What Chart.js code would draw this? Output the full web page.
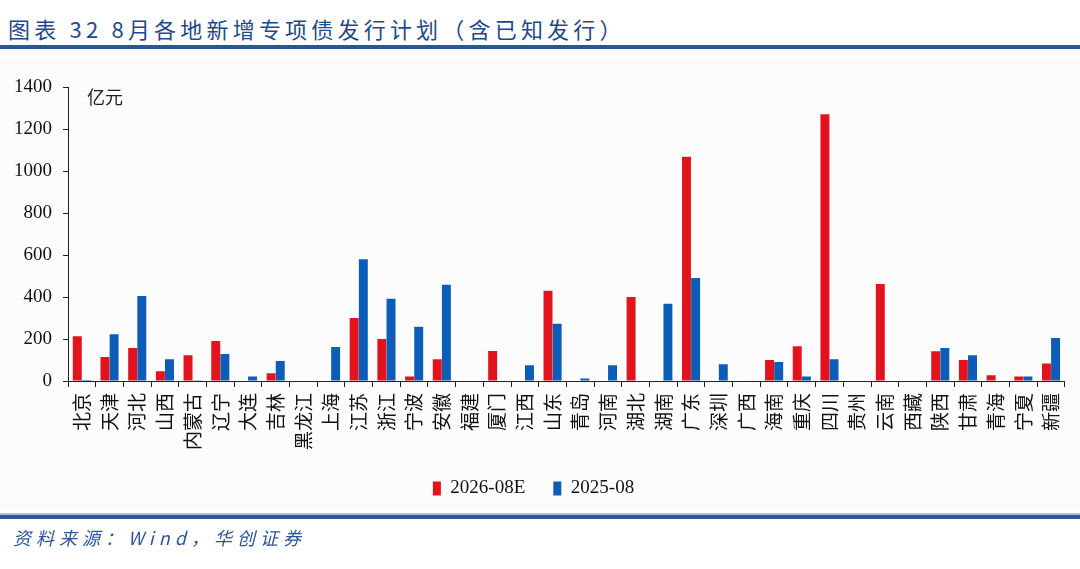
<!DOCTYPE html>
<html>
<head>
<meta charset="utf-8">
<script src="https://cdn.jsdelivr.net/npm/chart.js@4.4.1/dist/chart.umd.min.js"></script>
<style>
  html,body{margin:0;padding:0;background:#fff;}
  body{width:1080px;height:569px;position:relative;overflow:hidden;font-family:"Noto Sans CJK SC",sans-serif;}
  #title{position:absolute;left:8px;top:13px;font-size:22px;color:#1F4A8A;letter-spacing:4.2px;white-space:nowrap;line-height:30px;}
  #topline{position:absolute;left:0;top:45px;width:1080px;height:4px;background:#2B5597;}
  #plotbg{position:absolute;left:0;top:58px;width:1080px;height:452px;background:#fcfcfc;}
  #wrap{position:absolute;left:0;top:60px;width:1080px;height:480px;}
  #botline1{position:absolute;left:0;top:513px;width:1080px;height:2px;background:#A9C0DE;}
  #botline2{position:absolute;left:0;top:515px;width:1080px;height:4px;background:#2B5597;}
  #source{position:absolute;left:13px;top:522px;font-size:18px;color:#2B5597;font-style:italic;letter-spacing:5px;white-space:nowrap;line-height:30px;}
</style>
</head>
<body>
<div id="title">图表 32 8月各地新增专项债发行计划（含已知发行）</div>
<div id="topline"></div>
<div id="plotbg"></div>
<div id="wrap"><canvas id="c" width="1080" height="480"></canvas></div>
<div id="botline1"></div>
<div id="botline2"></div>
<div id="source">资料来源：Wind，华创证券</div>
<script>
const categories = ['北京','天津','河北','山西','内蒙古','辽宁','大连','吉林','黑龙江','上海','江苏','浙江','宁波','安徽','福建','厦门','江西','山东','青岛','河南','湖北','湖南','广东','深圳','广西','海南','重庆','四川','贵州','云南','西藏','陕西','甘肃','青海','宁夏','新疆'];
const series2026 = [213,114,157,47,123,190,0,37,0,0,300,200,22,104,0,143,0,430,0,0,400,0,1068,0,0,100,165,1270,0,462,0,142,100,27,22,83];
const series2025 = [5,223,405,104,4,128,22,95,0,162,580,392,258,458,0,0,75,273,12,75,0,368,490,80,0,90,22,104,0,0,0,157,123,0,22,205];
const yTicks = [0,200,400,600,800,1000,1200,1400];
const seriesNames = ['2026-08E','2025-08'];
const unitLabel = '亿元';

const unitPlugin = {
  id:'unit',
  afterDraw(chart){
    const ctx = chart.ctx, a = chart.chartArea;
    ctx.save();
    ctx.font = '18px "Noto Sans CJK SC"';
    ctx.fillStyle = '#222';
    ctx.textBaseline = 'middle';
    ctx.fillText(unitLabel, a.left + 19, a.top + 10);
    ctx.restore();
  }
};

new Chart(document.getElementById('c'), {
  type:'bar',
  data:{
    labels: categories,
    datasets:[
      {label:seriesNames[0], data:series2026, backgroundColor:'#E3131E', borderWidth:0},
      {label:seriesNames[1], data:series2025, backgroundColor:'#0B5DB8', borderWidth:0}
    ]
  },
  options:{
    responsive:false,
    animation:false,
    layout:{padding:{top:27,right:13,left:0,bottom:32}},
    datasets:{bar:{categoryPercentage:0.66,barPercentage:0.98}},
    plugins:{
      legend:{
        position:'bottom',
        labels:{
          boxWidth:8, boxHeight:14, padding:28,
          color:'#111',
          font:{family:'"Liberation Serif"', size:19}
        }
      },
      tooltip:{enabled:false}
    },
    scales:{
      x:{
        grid:{display:true, offset:true, drawOnChartArea:false, drawTicks:true, tickLength:6, color:'#222', lineWidth:1},
        border:{display:true, color:'#222', width:1},
        ticks:{autoSkip:false, maxRotation:90, minRotation:90, padding:6, color:'#111',
               font:{family:'"Noto Sans CJK SC"', size:19}},
        afterFit(scale){ scale.height = 70; }
      },
      y:{
        min:0, max:1400,
        afterBuildTicks(scale){ scale.ticks = yTicks.map(v=>({value:v})); },
        grid:{display:true, drawOnChartArea:false, drawTicks:true, tickLength:5, color:'#222'},
        border:{display:true, color:'#222', width:1},
        ticks:{padding:11, color:'#111', font:{family:'"Liberation Serif"', size:19},
               callback:(v)=>String(v)},
        afterFit(scale){ scale.width = 68; }
      }
    }
  },
  plugins:[unitPlugin]
});
</script>
</body>
</html>
